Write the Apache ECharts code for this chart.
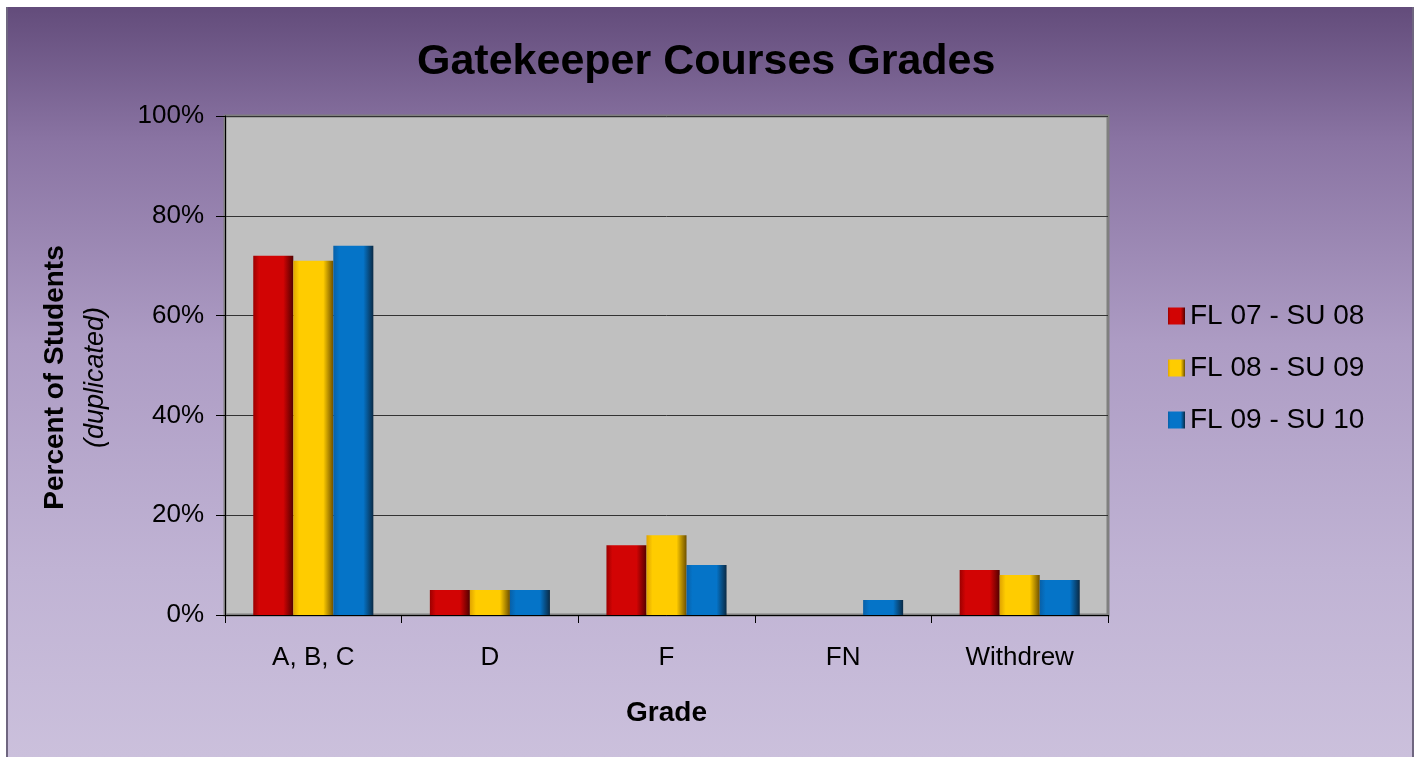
<!DOCTYPE html>
<html>
<head>
<meta charset="utf-8">
<title>Gatekeeper Courses Grades</title>
<script src="https://cdn.jsdelivr.net/npm/echarts@6/dist/echarts.min.js"></script>
<style>
    html,body{margin:0;padding:0;background:#fff;}
    .chart-bg{
        position:absolute;
        left:6px;top:7px;
        width:1404px;height:750px;
        border-left:2px solid #6f6680;
        border-right:2px solid #6f6680;
        background:linear-gradient(to bottom,#634c7b 0%,#8a74a3 18%,#ad9cc4 45%,#c0b3d4 75%,#cbc0dc 100%);
    }
    #chart{position:absolute;left:0;top:0;width:1419px;height:757px;}
</style>
</head>
<body>
<div class="chart-bg"></div>
<div id="chart"></div>
<script>
// 成绩类别
const categories = ['A, B, C', 'D', 'F', 'FN', 'Withdrew'];
// 各学年百分比
const fl07su08 = [72, 5, 14, 0, 9];
const fl08su09 = [71, 5, 16, 0, 8];
const fl09su10 = [74, 5, 10, 3, 7];
const yTicks = [0, 20, 40, 60, 80, 100];

const FONT = '"Liberation Sans", Arial, sans-serif';

// 横向渐变，模拟立体柱子
function barGrad(edgeL, main, edgeR){
    return new echarts.graphic.LinearGradient(0, 0, 1, 0, [
        {offset: 0, color: edgeL},
        {offset: 0.15, color: main},
        {offset: 0.75, color: main},
        {offset: 1, color: edgeR}
    ]);
}

const myChart = echarts.init(document.getElementById('chart'));

myChart.setOption({
    backgroundColor: 'transparent',
    textStyle: {fontFamily: FONT},
    title: {
        text: 'Gatekeeper Courses Grades',
        left: 412,
        top: 36,
        textStyle: {fontSize: 43, fontWeight: 'bold', color: '#000', fontFamily: FONT}
    },
    legend: {
        orient: 'vertical',
        left: 1168,
        top: 302,
        padding: 0,
        itemWidth: 17,
        itemHeight: 17,
        itemGap: 24,
        icon: 'rect',
        textStyle: {fontSize: 28, color: '#000', fontFamily: FONT},
        data: ['FL 07 - SU 08', 'FL 08 - SU 09', 'FL 09 - SU 10']
    },
    grid: {
        left: 225,
        right: 311,
        top: 116,
        bottom: 142,
        show: true,
        backgroundColor: '#c0c0c0',
        borderColor: '#7f7f7f',
        borderWidth: 3
    },
    xAxis: {
        type: 'category',
        data: categories,
        name: 'Grade',
        nameLocation: 'middle',
        nameGap: 84,
        nameTextStyle: {fontSize: 28, fontWeight: 'bold', color: '#000', fontFamily: FONT},
        axisLine: {lineStyle: {color: '#000', width: 1}},
        axisTick: {show: true, length: 8, lineStyle: {color: '#000'}},
        axisLabel: {fontSize: 26, color: '#000', margin: 30, fontFamily: FONT}
    },
    yAxis: {
        type: 'value',
        min: yTicks[0],
        max: yTicks[yTicks.length - 1],
        interval: 20,
        name: '{b|Percent of Students}\n{i|(duplicated)}',
        nameLocation: 'middle',
        nameRotate: 90,
        nameGap: 110,
        nameTextStyle: {
            color: '#000',
            padding: [0, 0, 0, -24],
            rich: {
                b: {fontSize: 28, fontWeight: 'bold', color: '#000', lineHeight: 40, fontFamily: FONT},
                i: {fontSize: 27, fontStyle: 'italic', color: '#000', lineHeight: 40, fontFamily: FONT}
            }
        },
        axisLine: {show: true, lineStyle: {color: '#000', width: 1}},
        axisTick: {show: true, length: 9, lineStyle: {color: '#000'}},
        axisLabel: {fontSize: 26, color: '#000', margin: 21, formatter: '{value}%', fontFamily: FONT},
        splitLine: {lineStyle: {color: '#333', width: 1}}
    },
    series: [
        {
            name: 'FL 07 - SU 08',
            type: 'bar',
            data: fl07su08,
            barGap: '0%',
            barCategoryGap: '32%',
            itemStyle: {color: barGrad('#9c0000', '#d20404', '#520000')}
        },
        {
            name: 'FL 08 - SU 09',
            type: 'bar',
            data: fl08su09,
            itemStyle: {color: barGrad('#e0a400', '#ffcc00', '#6e5000')}
        },
        {
            name: 'FL 09 - SU 10',
            type: 'bar',
            data: fl09su10,
            itemStyle: {color: barGrad('#0860a8', '#0574c8', '#0a2a45')}
        }
    ]
});
</script>
</body>
</html>
